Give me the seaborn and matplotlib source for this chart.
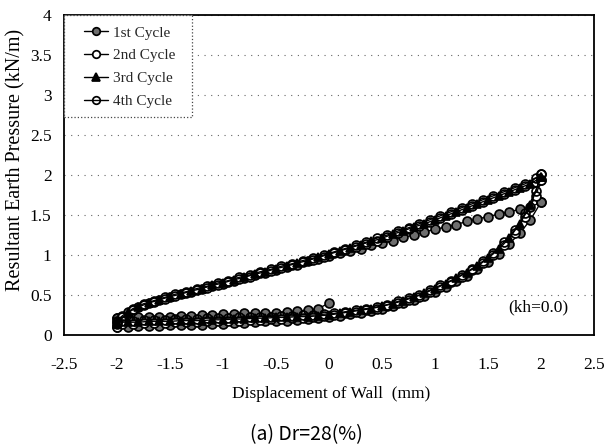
import numpy as np
import pandas as pd
import matplotlib
matplotlib.use("Agg")
import matplotlib.pyplot as plt
import seaborn as sns
from matplotlib.ticker import FixedLocator, FixedFormatter
from matplotlib.patches import Rectangle

# ---------------- data ----------------
X_INIT = [0.0, -0.1, -0.2, -0.3, -0.4, -0.5, -0.6, -0.7, -0.8, -0.9, -1.0,
          -1.1, -1.2, -1.3, -1.4, -1.5, -1.6, -1.7, -1.8, -1.9, -2.0]
X_LOAD = [-2.0, -1.9, -1.8, -1.7, -1.6, -1.5, -1.4, -1.3, -1.2, -1.1, -1.0,
          -0.9, -0.8, -0.7, -0.6, -0.5, -0.4, -0.3, -0.2, -0.1, 0.0,
          0.1, 0.2, 0.3, 0.4, 0.5, 0.6, 0.7, 0.8, 0.9, 1.0,
          1.1, 1.2, 1.3, 1.4, 1.5, 1.6, 1.7, 1.8, 1.9, 2.0]
X_UNLOAD = [2.0, 1.9, 1.8, 1.7, 1.6, 1.5, 1.4, 1.3, 1.2, 1.1, 1.0,
            0.9, 0.8, 0.7, 0.6, 0.5, 0.4, 0.3, 0.2, 0.1, 0.0,
            -0.1, -0.2, -0.3, -0.4, -0.5, -0.6, -0.7, -0.8, -0.9, -1.0,
            -1.1, -1.2, -1.3, -1.4, -1.5, -1.6, -1.7, -1.8, -1.9, -2.0]
X_LOAD_B = [-2.0, -1.95, -1.85, -1.75, -1.65, -1.55, -1.45, -1.35, -1.25, -1.15, -1.05,
            -0.95, -0.85, -0.75, -0.65, -0.55, -0.45, -0.35, -0.25, -0.15, -0.05,
            0.05, 0.15, 0.25, 0.35, 0.45, 0.55, 0.65, 0.75, 0.85, 0.95,
            1.05, 1.15, 1.25, 1.35, 1.45, 1.55, 1.65, 1.75, 1.85, 1.95, 2.0]
X_UNLOAD_B = [2.0, 1.95, 1.85, 1.75, 1.65, 1.55, 1.45, 1.35, 1.25, 1.15, 1.05,
              0.95, 0.85, 0.75, 0.65, 0.55, 0.45, 0.35, 0.25, 0.15, 0.05,
              -0.05, -0.15, -0.25, -0.35, -0.45, -0.55, -0.65, -0.75, -0.85, -0.95,
              -1.05, -1.15, -1.25, -1.35, -1.45, -1.55, -1.65, -1.75, -1.85, -1.95, -2.0]

Y_INIT_C1 = [0.40, 0.33, 0.31, 0.30, 0.29, 0.28, 0.28, 0.27, 0.27, 0.26, 0.26,
             0.25, 0.25, 0.24, 0.24, 0.23, 0.23, 0.22, 0.22, 0.21, 0.21]

Y_LOAD_C1 = [0.21, 0.29, 0.35, 0.40, 0.44, 0.47, 0.51, 0.54, 0.58, 0.61, 0.64,
             0.68, 0.71, 0.75, 0.78, 0.81, 0.85, 0.88, 0.92, 0.95, 0.99,
             1.02, 1.05, 1.08, 1.12, 1.15, 1.18, 1.22, 1.25, 1.29, 1.32,
             1.35, 1.38, 1.42, 1.45, 1.48, 1.51, 1.54, 1.57, 1.60, 1.66]
Y_UNLOAD_C1 = [1.66, 1.44, 1.27, 1.14, 1.01, 0.91, 0.82, 0.74, 0.67, 0.60, 0.54,
               0.49, 0.44, 0.40, 0.36, 0.33, 0.30, 0.28, 0.26, 0.24, 0.22,
               0.21, 0.20, 0.19, 0.18, 0.17, 0.17, 0.16, 0.15, 0.15, 0.14,
               0.14, 0.13, 0.13, 0.12, 0.12, 0.11, 0.11, 0.11, 0.10, 0.10]

Y_LOAD_C2 = [0.10, 0.22, 0.31, 0.37, 0.41, 0.45, 0.49, 0.52, 0.56, 0.59, 0.63,
             0.66, 0.70, 0.73, 0.77, 0.80, 0.84, 0.87, 0.91, 0.94, 0.98,
             1.02, 1.06, 1.10, 1.14, 1.18, 1.23, 1.27, 1.32, 1.36, 1.41,
             1.46, 1.51, 1.56, 1.61, 1.66, 1.71, 1.76, 1.81, 1.86, 1.91, 1.94]
Y_UNLOAD_C2 = [1.94, 1.74, 1.48, 1.28, 1.13, 1.00, 0.90, 0.81, 0.73, 0.66, 0.60,
               0.54, 0.48, 0.44, 0.40, 0.36, 0.33, 0.31, 0.29, 0.27, 0.25,
               0.24, 0.22, 0.21, 0.21, 0.20, 0.20, 0.19, 0.19, 0.18, 0.18,
               0.17, 0.17, 0.16, 0.16, 0.16, 0.15, 0.15, 0.15, 0.14, 0.14, 0.14]

Y_LOAD_C3 = [0.14, 0.28, 0.35, 0.40, 0.44, 0.48, 0.51, 0.55, 0.58, 0.62, 0.65,
             0.69, 0.72, 0.76, 0.79, 0.83, 0.86, 0.90, 0.93, 0.97, 1.01,
             1.05, 1.09, 1.13, 1.17, 1.21, 1.26, 1.30, 1.35, 1.39, 1.44,
             1.49, 1.54, 1.59, 1.64, 1.69, 1.74, 1.79, 1.84, 1.89, 1.97]
Y_UNLOAD_C3 = [1.97, 1.62, 1.39, 1.21, 1.07, 0.96, 0.86, 0.78, 0.71, 0.64, 0.58,
               0.52, 0.47, 0.43, 0.39, 0.36, 0.33, 0.31, 0.29, 0.27, 0.25,
               0.24, 0.23, 0.23, 0.22, 0.22, 0.21, 0.21, 0.20, 0.20, 0.19,
               0.19, 0.18, 0.18, 0.18, 0.17, 0.17, 0.17, 0.16, 0.16, 0.16]

Y_LOAD_C4 = [0.16, 0.24, 0.33, 0.39, 0.43, 0.47, 0.51, 0.54, 0.58, 0.61, 0.65,
             0.68, 0.72, 0.75, 0.79, 0.82, 0.86, 0.89, 0.93, 0.96, 1.00,
             1.04, 1.08, 1.12, 1.16, 1.21, 1.25, 1.30, 1.34, 1.39, 1.44,
             1.49, 1.54, 1.59, 1.64, 1.69, 1.74, 1.79, 1.84, 1.89, 1.96, 2.01]
Y_UNLOAD_C4 = [2.01, 1.80, 1.52, 1.31, 1.16, 1.03, 0.92, 0.83, 0.75, 0.68, 0.62,
               0.56, 0.50, 0.46, 0.42, 0.38, 0.35, 0.33, 0.31, 0.29, 0.27,
               0.26, 0.25, 0.25, 0.24, 0.24, 0.23, 0.23, 0.22, 0.22, 0.21,
               0.21, 0.21, 0.20, 0.20, 0.20, 0.19, 0.19, 0.19, 0.18, 0.18, 0.18]

CYCLE_LABELS = ["1st Cycle", "2nd Cycle", "3rd Cycle", "4th Cycle"]
X_TICKS = [-2.5, -2, -1.5, -1, -0.5, 0, 0.5, 1, 1.5, 2, 2.5]
X_TICK_LABELS = ["-2.5", "-2", "-1.5", "-1", "-0.5", "0", "0.5", "1", "1.5", "2", "2.5"]
Y_TICKS = [0, 0.5, 1, 1.5, 2, 2.5, 3, 3.5, 4]
Y_TICK_LABELS = ["0", "0.5", "1", "1.5", "2", "2.5", "3", "3.5", "4"]

# ---------------- build table ----------------
rows = []
def add(cycle, xs, ys):
    for xv, yv in zip(xs, ys):
        rows.append((cycle, xv, yv))

add(CYCLE_LABELS[0], X_INIT, Y_INIT_C1)
add(CYCLE_LABELS[0], X_LOAD, Y_LOAD_C1)
add(CYCLE_LABELS[0], X_UNLOAD, Y_UNLOAD_C1)
add(CYCLE_LABELS[1], X_LOAD_B, Y_LOAD_C2)
add(CYCLE_LABELS[1], X_UNLOAD_B, Y_UNLOAD_C2)
add(CYCLE_LABELS[2], X_LOAD, Y_LOAD_C3)
add(CYCLE_LABELS[2], X_UNLOAD, Y_UNLOAD_C3)
add(CYCLE_LABELS[3], X_LOAD_B, Y_LOAD_C4)
add(CYCLE_LABELS[3], X_UNLOAD_B, Y_UNLOAD_C4)
df = pd.DataFrame(rows, columns=["cycle", "disp", "pressure"])

# ---------------- style ----------------
sns.set_theme(style="white")
plt.rcParams["font.family"] = ["Liberation Serif", "DejaVu Serif"]
plt.rcParams["axes.unicode_minus"] = False

fig = plt.figure(figsize=(6.06, 4.45), dpi=100)
ax = fig.add_axes([64 / 606, 1 - 335 / 445, 530 / 606, 320 / 445])

styles = {
    "1st Cycle": dict(marker="o", markerfacecolor="#6e6e6e", markeredgecolor="black"),
    "2nd Cycle": dict(marker="o", markerfacecolor="white", markeredgecolor="black"),
    "3rd Cycle": dict(marker="^", markerfacecolor="black", markeredgecolor="black"),
    "4th Cycle": dict(marker="o", markerfacecolor="none", markeredgecolor="black"),
}

for lab in CYCLE_LABELS:
    sub = df[df["cycle"] == lab]
    sns.lineplot(data=sub, x="disp", y="pressure", sort=False, estimator=None,
                 ax=ax, color="black", linewidth=1.0, markersize=6.4,
                 markeredgewidth=1.25, label=lab, **styles[lab])

ax.set_xlim(-2.5, 2.5)
ax.set_ylim(0, 4)
ax.xaxis.set_major_locator(FixedLocator(X_TICKS))
ax.xaxis.set_major_formatter(FixedFormatter(X_TICK_LABELS))
ax.yaxis.set_major_locator(FixedLocator(Y_TICKS))
ax.yaxis.set_major_formatter(FixedFormatter(Y_TICK_LABELS))
ax.tick_params(axis="x", length=0, pad=16, labelsize=12.5, colors="black")
ax.tick_params(axis="y", length=0, pad=9, labelsize=12.5, colors="black")

ax.yaxis.grid(True, color="#666666", linestyle=(0, (1, 5)), linewidth=0.8)
ax.xaxis.grid(False)
for s in ax.spines.values():
    s.set_visible(True)
    s.set_color("black")
    s.set_linewidth(1.3)

ax.set_xlabel("Displacement of Wall  (mm)", fontsize=12.5, color="black")
ax.set_ylabel("Resultant Earth Pressure (kN/m)", fontsize=14.5, color="black")
ax.xaxis.set_label_coords(0.504, -0.158)
ax.yaxis.set_label_coords(-0.072, 0.547)

# legend box (dotted frame) and entries
ax.add_patch(Rectangle((0, (335 - 117) / 320), 128 / 530, 102 / 320,
                       transform=ax.transAxes, facecolor="white",
                       edgecolor="#444444", linestyle=":", linewidth=0.9,
                       zorder=4))
leg = ax.legend(loc="upper left", bbox_to_anchor=(20 / 530, 0.966),
                fontsize=11, frameon=False, borderaxespad=0, borderpad=0,
                handlelength=1.6, handletextpad=0.3, labelspacing=0.6,
                markerscale=0.85)
leg.set_zorder(5)

ax.text(1.97, 0.34, "(kh=0.0)", fontsize=12.5, ha="center", va="center", color="black")

fig.text(306 / 606, 1 - 435 / 445, "(a) Dr=28(%)", fontsize=14, ha="center",
         va="center", family=["Noto Sans CJK KR", "DejaVu Sans"], color="black")

fig.savefig("out.png", dpi=100)
